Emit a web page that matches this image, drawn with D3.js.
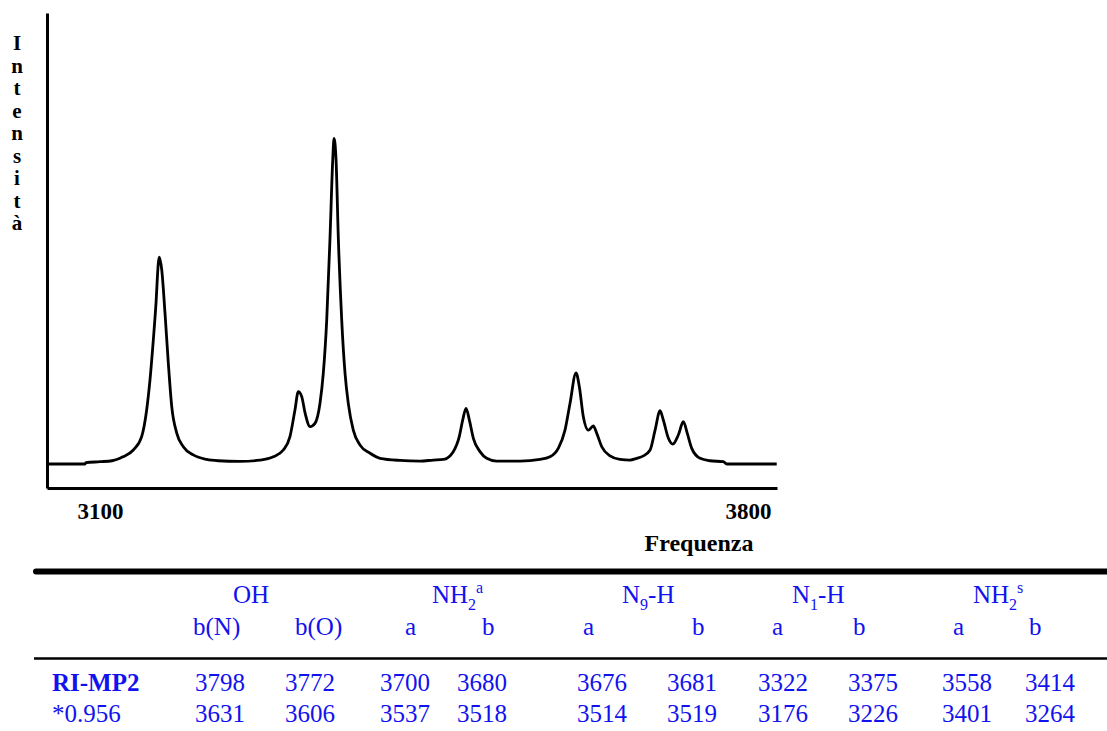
<!DOCTYPE html>
<html>
<head>
<meta charset="utf-8">
<script src="https://cdn.jsdelivr.net/npm/d3@7"></script>
<style>
  body { margin: 0; background: #fff; }
  text { font-family: "Liberation Serif", "Times New Roman", serif; }
</style>
</head>
<body>
<svg id="chart" width="1107" height="731"></svg>
<script>
// ---- spectrum (frequency, relative intensity) ----
const freq = [
  3043, 3083.5, 3085, 3100, 3113, 3121.6, 3124.8, 3136, 3145, 3150.4, 3154, 3157.6, 3160.5, 3163, 3164,
  3166.7, 3170.2, 3173.8, 3177.5, 3182.9, 3190, 3200.8, 3215.3, 3227.8, 3251, 3272.8, 3287.2, 3298,
  3305.2, 3310.6, 3314.2, 3317.9, 3321.5, 3326.9, 3332.2, 3337.6, 3341.2, 3344.9, 3348.5, 3351.4,
  3352.8, 3355, 3357.4, 3361.1, 3364.7, 3368.2, 3373.6, 3380.9, 3391.7, 3402.5, 3424, 3445.7, 3460,
  3470.9, 3481.6, 3488.1, 3491.8, 3495.4, 3499, 3503.3, 3510.5, 3517.7, 3528.5, 3553.7, 3575.3,
  3586.1, 3595, 3602.3, 3607.7, 3614.2, 3617.8, 3622.1, 3627.5, 3632.9, 3636.6, 3642, 3651, 3661.7,
  3672.5, 3679.8, 3687, 3694.2, 3699.6, 3705, 3708.5, 3714, 3718.7, 3724.7, 3730.1, 3734.4, 3739.2,
  3748.2, 3759, 3773.3, 3777, 3831
];
const intensity = [
  0, 0, 0.4, 0.7, 1.0, 1.75, 2.2, 4.3, 8.4, 16.6, 25.8, 38.1, 49.4, 61.7, 63.5,
  59.6, 46.4, 31.0, 17.6, 9.5, 5.3, 2.8, 1.4, 1.0, 0.8, 1.2, 2.2, 4.3,
  8.4, 16.6, 22.2, 20.7, 15.7, 11.5, 12.5, 18.6, 27.8, 44.2, 69.8, 93.3,
  100, 93.3, 69.8, 44.2, 27.8, 18.6, 10.4, 5.8, 3.3, 1.75, 1.1, 0.9, 1.2,
  1.4, 3.8, 8.4, 13.5, 17.1, 13.5, 7.9, 3.8, 1.75, 0.9, 0.9, 1.4,
  2.2, 4.8, 10.4, 18.6, 28.0, 23.7, 14.5, 10.4, 11.7, 9.4, 5.3, 2.5, 1.4,
  1.2, 1.75, 2.5, 4.3, 10.4, 16.4, 13.5, 7.9, 6.1, 8.9, 13.0, 9.4, 4.8,
  1.75, 1.0, 0.7, 0, 0
];
const xTicks = [3100, 3800];
const xTitle = "Frequenza";
const yTitle = "Intensità";

// ---- table below the chart ----
const groupLabels = [
  [["OH", ""]],
  [["NH", ""], ["2", "sub"], ["a", "sup"]],
  [["N", ""], ["9", "sub"], ["-H", ""]],
  [["N", ""], ["1", "sub"], ["-H", ""]],
  [["NH", ""], ["2", "sub"], ["s", "sup"]]
];
const modeLabels = ["b(N)", "b(O)", "a", "b", "a", "b", "a", "b", "a", "b"];
const rowNames = ["RI-MP2", "*0.956"];
const riMp2 = [3798, 3772, 3700, 3680, 3676, 3681, 3322, 3375, 3558, 3414];
const scaled = [3631, 3606, 3537, 3518, 3514, 3519, 3176, 3226, 3401, 3264];

// layout of the table (left edges of the columns)
const groupX = [233, 432, 622, 792, 973];
const modeX = [193, 295, 405, 482, 583, 692, 772, 853, 953, 1029];
const valueX = [195, 285, 380, 457, 577, 667, 758, 848, 942, 1025];
const blue = "#1212ee";

const svg = d3.select("#chart");

// scales: axis box is 47..777 wide, 13..488 high
let x = d3.scaleLinear().domain([3042.75, 3831.3]).range([47, 777]);
let y = d3.scaleLinear().domain([-7.37, 138.5]).range([488, 13]);

let points = freq.map((f, i) => ({ f: f, v: intensity[i] }));

let line = d3.line()
    .x(d => x(d.f))
    .y(d => y(d.v))
    .curve(d3.curveMonotoneX);

svg.append("path")
    .datum(points)
    .attr("d", line)
    .attr("fill", "none")
    .attr("stroke", "#000")
    .attr("stroke-width", 2.8)
    .attr("stroke-linejoin", "round");

// axes
let xAxis = svg.append("g")
    .attr("transform", "translate(0,488)")
    .call(d3.axisBottom(x).tickValues(xTicks).tickSize(0).tickSizeOuter(0).tickFormat(d3.format("d")));
xAxis.select(".domain").attr("stroke", "#000").attr("stroke-width", 3);
xAxis.selectAll("text")
    .attr("y", 31).attr("dy", 0)
    .attr("fill", "#000")
    .style("font-family", "'Liberation Serif', serif")
    .style("font-size", "23px")
    .style("font-weight", "bold");

let yAxis = svg.append("g")
    .attr("transform", "translate(47,0)")
    .call(d3.axisLeft(y).ticks(0).tickSizeOuter(0));
yAxis.select(".domain").attr("stroke", "#000").attr("stroke-width", 3);

svg.append("text")
    .attr("x", 699).attr("y", 551)
    .attr("text-anchor", "middle")
    .style("font-size", "24px").style("font-weight", "bold")
    .text(xTitle);

// vertical, letter-stacked y title
svg.append("g").selectAll("text")
    .data(Array.from(yTitle))
    .enter().append("text")
    .attr("x", 17)
    .attr("y", (d, i) => 50 + i * 22.5)
    .attr("text-anchor", "middle")
    .style("font-size", "21px").style("font-weight", "bold")
    .text(d => d);

// table rules
svg.append("line")
    .attr("x1", 36).attr("x2", 1110).attr("y1", 571.5).attr("y2", 571.5)
    .attr("stroke", "#000").attr("stroke-width", 6).attr("stroke-linecap", "round");
svg.append("line")
    .attr("x1", 34).attr("x2", 1110).attr("y1", 658.5).attr("y2", 658.5)
    .attr("stroke", "#000").attr("stroke-width", 2.6);

// group headers with sub/superscripts
let headers = svg.append("g").selectAll("text")
    .data(groupLabels)
    .enter().append("text")
    .attr("x", (d, i) => groupX[i])
    .attr("y", 603)
    .attr("fill", blue)
    .style("font-size", "25px");

headers.each(function(parts) {
    let t = d3.select(this);
    let shift = 0;
    parts.forEach(p => {
        let target = p[1] == "sub" ? 7 : p[1] == "sup" ? -10 : 0;
        t.append("tspan")
            .attr("dy", target - shift)
            .style("font-size", p[1] ? "16px" : "25px")
            .text(p[0]);
        shift = target;
    });
});

svg.append("g").selectAll("text")
    .data(modeLabels)
    .enter().append("text")
    .attr("x", (d, i) => modeX[i])
    .attr("y", 635)
    .attr("fill", blue)
    .style("font-size", "25px")
    .text(d => d);

// rows
let rows = [riMp2, scaled];
rows.forEach((vals, r) => {
    let yy = r == 0 ? 690.5 : 721.5;
    svg.append("text")
        .attr("x", 52).attr("y", yy)
        .attr("fill", blue)
        .style("font-size", "25px")
        .style("font-weight", r == 0 ? "bold" : "normal")
        .text(rowNames[r]);
    svg.append("g").selectAll("text")
        .data(vals)
        .enter().append("text")
        .attr("x", (d, i) => valueX[i])
        .attr("y", yy)
        .attr("fill", blue)
        .style("font-size", "25px")
        .text(d => d);
});
</script>
</body>
</html>
